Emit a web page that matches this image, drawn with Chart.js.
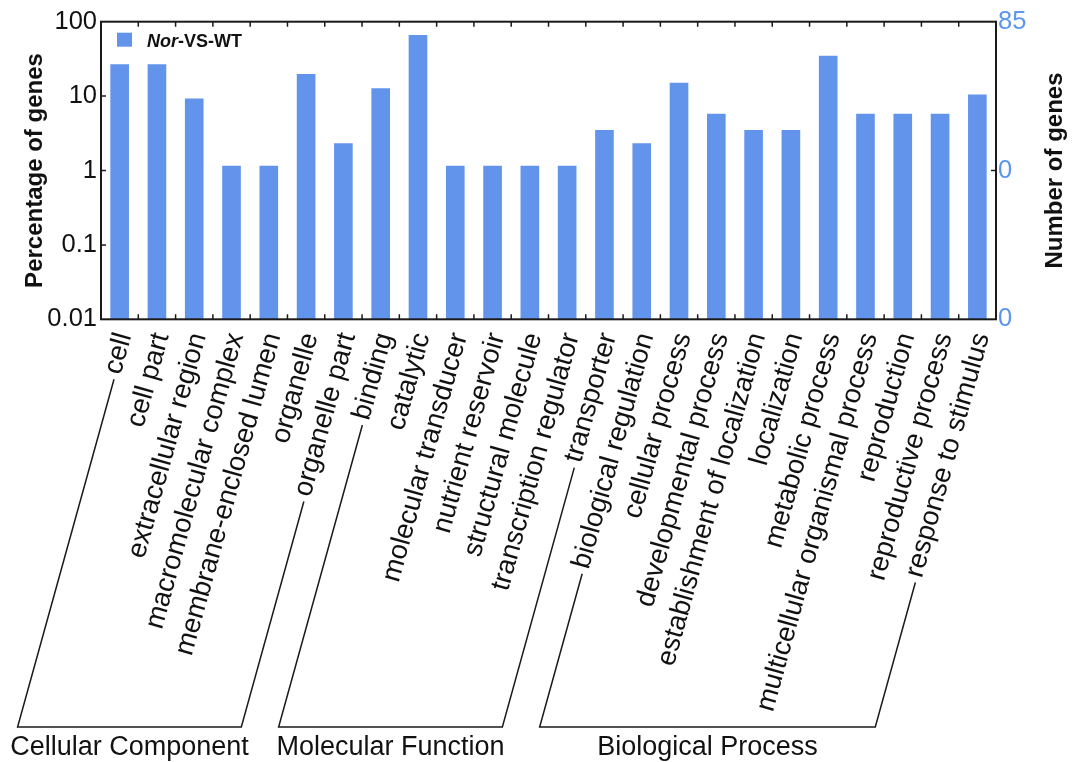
<!DOCTYPE html>
<html>
<head>
<meta charset="utf-8">
<title>GO classification: Nor-VS-WT</title>
<script src="https://cdn.jsdelivr.net/npm/chart.js@4.4.1/dist/chart.umd.min.js"></script>
<style>
  html, body { margin: 0; padding: 0; background: #ffffff; }
  #wrap { position: relative; width: 1080px; height: 762px; }
</style>
</head>
<body>
<div id="wrap"><canvas id="goChart"></canvas></div>
<script>
// GO terms (x categories)
const categories = [
  "cell", "cell part", "extracellular region", "macromolecular complex",
  "membrane-enclosed lumen", "organelle", "organelle part",
  "binding", "catalytic", "molecular transducer", "nutrient reservoir",
  "structural molecule", "transcription regulator", "transporter",
  "biological regulation", "cellular process", "developmental process",
  "establishment of localization", "localization", "metabolic process",
  "multicellular organismal process", "reproduction", "reproductive process",
  "response to stimulus"
];

// Percentage of genes per term
const percentages = [
  26.74, 26.74, 9.30, 1.16, 1.16, 19.77, 2.33,
  12.79, 66.28, 1.16, 1.16, 1.16, 1.16, 3.49,
  2.33, 15.12, 5.81, 3.49, 3.49, 34.88, 5.81, 5.81, 5.81, 10.47
];

// GO ontology groups (first and last category index of each bracket)
const groupNames = ["Cellular Component", "Molecular Function", "Biological Process"];
const groupFirst = [0, 7, 14];
const groupLast  = [6, 13, 23];

// Axis ticks
const leftTickValues  = [0.01, 0.1, 1, 10, 100];
const leftTickLabels  = ["0.01", "0.1", "1", "10", "100"];
const rightTickValues = [0.01, 1, 100];
const rightTickLabels = ["0", "0", "85"];

// Series / titles
const seriesName = "Nor-VS-WT";
const seriesItalicPart = "Nor";
const leftAxisTitle = "Percentage of genes";
const rightAxisTitle = "Number of genes";

const FONT = "'Liberation Sans', Arial, Helvetica, sans-serif";
const BAR_BLUE = "#6394ec";
const RIGHT_BLUE = "#5b95f0";
const INK = "#111111";

const LABEL_SIZE = 27.5;
const LABEL_ANGLE = 74.5;
const LABEL_PAD = 10;
const LABEL_SHIFT = 4.5;

// Frame, inner tick marks, legend, right-hand title and ontology brackets
const decorations = {
  id: "decorations",
  afterDraw(chart) {
    const { ctx, chartArea: a, scales } = chart;
    const xs = scales.x, ys = scales.y, y2 = scales.y2;
    ctx.save();

    // plot frame
    ctx.strokeStyle = "#1a1a1a";
    ctx.lineWidth = 2;
    ctx.strokeRect(a.left, a.top, a.right - a.left, a.bottom - a.top);

    // short inward ticks
    ctx.lineWidth = 1.5;
    ctx.beginPath();
    for (let i = 1; i < categories.length; i++) {
      const bx = (xs.getPixelForValue(i - 1) + xs.getPixelForValue(i)) / 2;
      ctx.moveTo(bx, a.top); ctx.lineTo(bx, a.top + 5);
      ctx.moveTo(bx, a.bottom); ctx.lineTo(bx, a.bottom - 5);
    }
    leftTickValues.forEach(v => {
      const py = ys.getPixelForValue(v);
      if (py > a.top + 2 && py < a.bottom - 2) { ctx.moveTo(a.left, py); ctx.lineTo(a.left + 5, py); }
    });
    rightTickValues.forEach(v => {
      const py = y2.getPixelForValue(v);
      if (py > a.top + 2 && py < a.bottom - 2) { ctx.moveTo(a.right, py); ctx.lineTo(a.right - 5, py); }
    });
    ctx.stroke();

    // legend inside the plot
    const ds = chart.data.datasets[0];
    const lx = a.left + 16, ly = a.top + 11;
    ctx.fillStyle = ds.backgroundColor;
    ctx.fillRect(lx, ly, 15, 14);
    ctx.fillStyle = INK;
    ctx.textBaseline = "alphabetic";
    ctx.textAlign = "left";
    let tx = lx + 30;
    const ty = ly + 14.5;
    const rest = ds.label.slice(seriesItalicPart.length);
    ctx.font = "italic bold 18px " + FONT;
    ctx.fillText(seriesItalicPart, tx, ty);
    tx += ctx.measureText(seriesItalicPart).width;
    ctx.font = "bold 18px " + FONT;
    ctx.fillText(rest, tx, ty);

    // right axis title, reading bottom-to-top
    ctx.save();
    ctx.translate(chart.width - 24.5, (a.top + a.bottom) / 2);
    ctx.rotate(-Math.PI / 2);
    ctx.textAlign = "center";
    ctx.textBaseline = "middle";
    ctx.font = "bold 24px " + FONT;
    ctx.fillStyle = INK;
    ctx.fillText(rightAxisTitle, 0, 0);
    ctx.restore();

    // ontology brackets running along the rotated category labels
    const th = LABEL_ANGLE * Math.PI / 180;
    const dx = -Math.cos(th), dy = Math.sin(th);
    const lineHeight = LABEL_SIZE * 1.2;
    const anchorY = a.bottom + LABEL_PAD + (lineHeight / 2) * Math.cos(th);
    const baseY = chart.height - 35;
    ctx.font = LABEL_SIZE + "px " + FONT;
    const leg = (i) => {
      const ax = xs.getPixelForValue(i) + LABEL_SHIFT + 2.5;
      const s = ctx.measureText(categories[i]).width + 6;
      const t = (baseY - anchorY) / dy;
      return { sx: ax + dx * s, sy: anchorY + dy * s, ex: ax + dx * t, ey: baseY };
    };
    ctx.strokeStyle = "#1a1a1a";
    ctx.lineWidth = 1.5;
    ctx.fillStyle = INK;
    groupNames.forEach((name, g) => {
      const L = leg(groupFirst[g]);
      const R = leg(groupLast[g]);
      ctx.beginPath();
      ctx.moveTo(L.sx, L.sy);
      ctx.lineTo(L.ex, L.ey);
      ctx.lineTo(R.ex, R.ey);
      ctx.lineTo(R.sx, R.sy);
      ctx.stroke();
      ctx.save();
      ctx.font = "27px " + FONT;
      ctx.textAlign = "center";
      ctx.textBaseline = "alphabetic";
      ctx.fillText(name, (L.ex + R.ex) / 2, chart.height - 7);
      ctx.restore();
    });

    ctx.restore();
  }
};

new Chart(document.getElementById("goChart"), {
  type: "bar",
  data: {
    labels: categories,
    datasets: [{
      label: seriesName,
      data: percentages,
      backgroundColor: BAR_BLUE,
      borderWidth: 0,
      barPercentage: 0.5,
      categoryPercentage: 1.0,
      yAxisID: "y"
    }]
  },
  options: {
    responsive: true,
    maintainAspectRatio: false,
    animation: false,
    devicePixelRatio: 1,
    layout: { padding: { top: 21.7, left: 0, right: 0, bottom: 0 } },
    plugins: {
      legend: { display: false },
      tooltip: { enabled: false }
    },
    scales: {
      x: {
        type: "category",
        position: "bottom",
        offset: true,
        grid: { display: false, drawTicks: false },
        border: { display: false },
        ticks: {
          autoSkip: false,
          minRotation: LABEL_ANGLE,
          maxRotation: LABEL_ANGLE,
          padding: LABEL_PAD,
          labelOffset: LABEL_SHIFT,
          color: INK,
          font: { family: FONT, size: LABEL_SIZE }
        },
        afterFit(scale) { scale.height = 442.7; }
      },
      y: {
        type: "logarithmic",
        position: "left",
        min: 0.01,
        max: 100,
        grid: { display: false, drawTicks: false },
        border: { display: false },
        afterBuildTicks(scale) { scale.ticks = leftTickValues.map(v => ({ value: v, major: true })); },
        ticks: {
          padding: 4,
          color: INK,
          font: { family: FONT, size: 25.5 },
          callback: (value, index) => leftTickLabels[index]
        },
        title: {
          display: true,
          text: leftAxisTitle,
          color: INK,
          font: { family: FONT, size: 24, weight: "bold" },
          padding: { top: 21, bottom: 0 }
        },
        afterFit(scale) { scale.width = 101; }
      },
      y2: {
        type: "logarithmic",
        position: "right",
        display: true,
        min: 0.01,
        max: 100,
        grid: { display: false, drawTicks: false },
        border: { display: false },
        afterBuildTicks(scale) { scale.ticks = rightTickValues.map(v => ({ value: v, major: true })); },
        ticks: {
          padding: 2,
          color: RIGHT_BLUE,
          font: { family: FONT, size: 25.5 },
          callback: (value, index) => rightTickLabels[index]
        },
        afterFit(scale) { scale.width = 84; }
      }
    }
  },
  plugins: [decorations]
});
</script>
</body>
</html>
